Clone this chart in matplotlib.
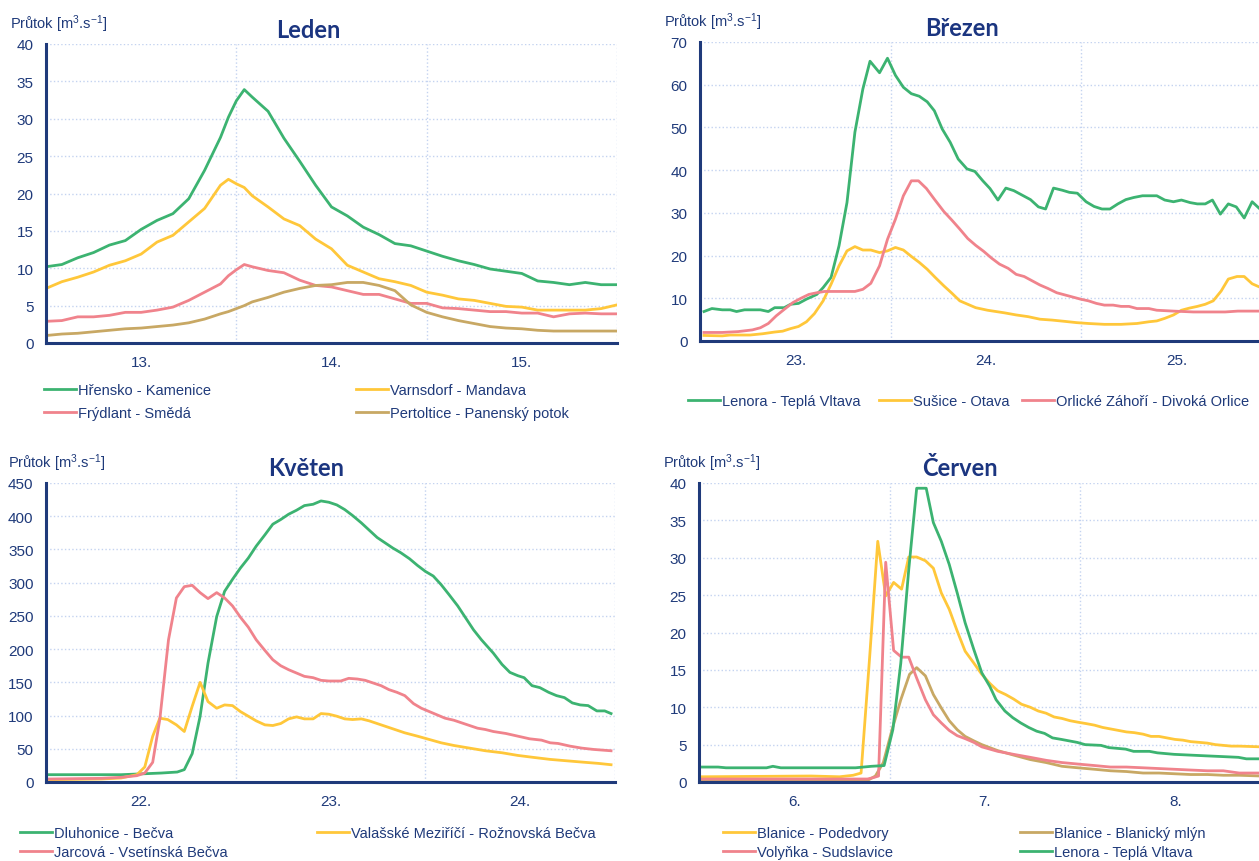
import matplotlib
matplotlib.use("Agg")
import matplotlib.pyplot as plt

W, H = 1259, 862

plt.rcParams['font.family'] = ['Liberation Sans', 'DejaVu Sans']
plt.rcParams['mathtext.default'] = 'regular'

NAVY = '#1f3a7a'
TITUL = '#1b3580'
MRIZKA = '#c4d3f0'
ZELENA = '#3cb371'
ZLUTA = '#ffc73a'
RUZOVA = '#f0838c'
HNEDA = '#c8a864'

# ---- Leden (13.-15.) ----
leden_h = [0, 2, 4, 6, 8, 10, 12, 14, 16, 18, 20, 22, 23, 24, 25, 26, 28, 30, 32, 34,
           36, 38, 40, 42, 44, 46, 48, 50, 52, 54, 56, 58, 60, 62, 64, 66, 68, 70, 72]
hrensko = [10.2, 10.5, 11.4, 12.1, 13.1, 13.7, 15.2, 16.4, 17.3, 19.3, 23.1, 27.5, 30.2, 32.4,
           33.9, 32.9, 31.0, 27.4, 24.3, 21.1, 18.2, 17.0, 15.5, 14.5, 13.3, 13.0, 12.3, 11.6,
           11.0, 10.5, 9.9, 9.6, 9.3, 8.3, 8.1, 7.8, 8.1, 7.8, 7.8]
varnsdorf = [7.3, 8.2, 8.8, 9.5, 10.4, 11.0, 11.9, 13.5, 14.4, 16.2, 18.0, 21.1, 21.9, 21.3,
             20.8, 19.7, 18.2, 16.6, 15.7, 13.9, 12.6, 10.4, 9.5, 8.6, 8.2, 7.7, 6.8, 6.4,
             5.9, 5.7, 5.3, 4.9, 4.8, 4.4, 4.4, 4.4, 4.4, 4.6, 5.1]
frydlant = [2.9, 3.0, 3.5, 3.5, 3.7, 4.1, 4.1, 4.4, 4.8, 5.7, 6.8, 7.9, 9.0, 9.8, 10.5, 10.2,
            9.7, 9.4, 8.4, 7.7, 7.5, 7.0, 6.5, 6.5, 5.9, 5.3, 5.3, 4.7, 4.6, 4.4, 4.2, 4.2,
            4.0, 4.0, 3.5, 3.9, 4.0, 3.9, 3.9]
pertoltice = [1.0, 1.2, 1.3, 1.5, 1.7, 1.9, 2.0, 2.2, 2.4, 2.7, 3.2, 3.9, 4.2, 4.6, 5.0, 5.5,
              6.1, 6.8, 7.3, 7.7, 7.8, 8.1, 8.1, 7.7, 7.0, 5.1, 4.1, 3.5, 3.0, 2.6, 2.2, 2.0,
              1.9, 1.7, 1.6, 1.6, 1.6, 1.6, 1.6]

# ---- Brezen (23.-25.) ----
lenora_b_h = [0.5, 1.5, 2.8, 3.8, 4.6, 5.6, 7.6, 8.6, 9.4, 10.6, 11.4, 12.4, 13.4, 14.7, 15.5,
              16.5, 17.5, 18.5, 19.5, 20.5, 21.4, 22.6, 23.6, 24.6, 25.6, 26.6, 27.6, 28.6,
              29.5, 30.5, 31.5, 32.5, 33.6, 34.6, 35.6, 36.5, 37.5, 38.5, 39.5, 40.5, 41.6,
              42.6, 43.5, 44.5, 45.6, 46.5, 47.5, 48.6, 49.6, 50.6, 51.6, 52.6, 53.6, 54.6,
              55.7, 57.5, 58.5, 59.6, 60.6, 61.7, 62.6, 63.6, 64.5, 65.5, 66.5, 67.5, 68.5,
              69.5, 70.6, 71.5]
lenora_b = [6.9, 7.6, 7.3, 7.3, 6.9, 7.3, 7.3, 6.9, 7.8, 7.8, 8.6, 8.8, 9.8, 10.9, 12.5, 14.9,
            22.3, 32.4, 48.9, 59.0, 65.5, 62.8, 66.2, 62.2, 59.4, 57.9, 57.3, 56.0, 53.9, 49.6,
            46.5, 42.6, 40.3, 39.7, 37.5, 35.7, 33.0, 35.8, 35.2, 34.2, 33.1, 31.4, 30.9, 35.8,
            35.3, 34.8, 34.6, 32.6, 31.5, 30.9, 30.9, 32.1, 33.1, 33.6, 34.0, 34.0, 33.0, 32.6,
            33.0, 32.4, 32.1, 32.1, 33.0, 29.7, 32.1, 31.4, 28.8, 32.6, 30.7, 31.5]
susice_h = [0.5, 2.8, 3.8, 6.3, 7.9, 9.4, 10.4, 11.4, 12.4, 13.4, 14.4, 15.5, 16.5, 17.5, 18.5,
            19.5, 20.5, 21.5, 22.6, 23.6, 24.6, 25.6, 26.6, 27.6, 28.6, 29.6, 30.7, 31.7, 32.7,
            33.7, 34.7, 36.2, 38.3, 39.8, 41.3, 42.8, 44.3, 45.9, 47.4, 48.9, 50.9, 53.0, 55.0,
            56.5, 57.5, 58.5, 59.6, 60.6, 61.6, 62.6, 63.6, 64.6, 65.6, 66.5, 67.6, 68.5, 69.5,
            70.6, 71.5]
susice = [1.3, 1.2, 1.4, 1.4, 1.7, 2.1, 2.3, 2.9, 3.4, 4.5, 6.4, 9.4, 13.3, 17.6, 21.1, 22.1,
          21.3, 21.3, 20.7, 21.1, 21.9, 21.3, 19.8, 18.4, 16.8, 14.9, 12.9, 11.2, 9.4, 8.6, 7.8,
          7.2, 6.6, 6.1, 5.7, 5.1, 4.9, 4.6, 4.3, 4.1, 3.9, 3.9, 4.1, 4.5, 4.7, 5.3, 6.1, 7.2,
          7.7, 8.1, 8.6, 9.4, 11.7, 14.5, 15.1, 15.1, 13.4, 12.5, 11.8]
orlicke_h = [0.5, 2.8, 4.8, 6.6, 7.6, 8.6, 9.6, 10.6, 11.7, 12.7, 13.7, 14.7, 15.7, 17.5, 19.5,
             20.5, 21.5, 22.6, 23.6, 24.6, 25.6, 26.6, 27.5, 28.5, 29.5, 30.7, 31.7, 32.7, 33.7,
             34.7, 35.7, 36.7, 37.7, 38.8, 39.8, 40.8, 41.8, 42.8, 43.8, 44.9, 45.9, 46.9, 47.9,
             48.9, 49.9, 50.9, 52.0, 53.0, 54.0, 55.0, 56.5, 57.5, 59.6, 62.1, 66.1, 67.7, 71.5]
orlicke = [2.0, 2.0, 2.2, 2.6, 3.1, 4.1, 5.9, 7.4, 9.0, 10.0, 10.9, 11.3, 11.6, 11.6, 11.6,
           12.1, 13.5, 17.6, 23.8, 28.5, 34.0, 37.5, 37.5, 35.7, 33.2, 30.3, 28.3, 26.2, 24.0,
           22.4, 21.0, 19.4, 18.0, 17.0, 15.6, 15.1, 14.1, 13.1, 12.3, 11.3, 10.8, 10.3, 9.8,
           9.4, 8.8, 8.4, 8.4, 8.1, 8.1, 7.6, 7.6, 7.2, 7.0, 6.8, 6.8, 7.0, 7.0]

# ---- Kveten (22.-24.) ----
dluhonice_h = [0.4, 9.5, 12.6, 14.6, 16.6, 17.5, 18.5, 19.5, 20.5, 21.6, 22.6, 23.6, 24.6, 25.6,
               26.6, 27.7, 28.7, 29.7, 30.7, 31.7, 32.7, 33.8, 34.8, 35.8, 36.8, 37.8, 38.8,
               39.9, 40.9, 41.9, 42.9, 43.9, 44.9, 46.0, 47.0, 48.0, 49.0, 50.0, 51.0, 52.1,
               53.1, 54.1, 55.1, 56.6, 57.7, 58.7, 59.7, 60.5, 61.5, 62.5, 63.6, 64.6, 65.6,
               66.6, 67.6, 68.6, 69.7, 70.7, 71.5]
dluhonice = [11, 11, 12.5, 13.5, 15, 18.6, 42.7, 98.9, 179, 249, 287, 305, 322, 337, 355, 372,
             388, 395, 403, 409, 416, 418, 423, 421, 417, 410, 401, 390, 379, 368, 360, 352,
             345, 336, 326, 317, 310, 297, 282, 265, 247, 229, 214, 194, 177, 165, 160, 157,
             145, 142, 135, 130, 127, 119, 116, 115, 107, 107, 103]
valmez_h = [0.4, 7.0, 9.5, 11.5, 12.5, 13.5, 14.4, 15.4, 16.5, 17.5, 18.5, 19.5, 20.5, 21.6,
            22.6, 23.6, 24.6, 25.6, 26.6, 27.7, 28.7, 29.7, 30.7, 31.7, 32.7, 33.8, 34.8, 35.8,
            36.8, 37.8, 38.8, 39.9, 40.9, 42.4, 43.9, 45.4, 47.0, 48.5, 50.0, 51.6, 53.6, 55.6,
            57.7, 59.7, 61.7, 63.8, 65.8, 67.8, 69.9, 71.5]
valmez = [3.5, 4.5, 6, 11, 22.6, 68.8, 96, 94, 86, 76, 114, 150, 121, 111, 116, 115, 106, 99,
          92, 86, 85, 88, 95, 98, 95, 95, 103, 102, 99, 95, 94, 95, 92, 86, 80, 74, 69, 64, 59,
          55, 51, 47, 44, 40, 37, 34, 32, 30, 28, 26]
jarcova_h = [0.4, 7.0, 9.5, 11.5, 12.5, 13.5, 14.4, 15.5, 16.5, 17.5, 18.5, 19.5, 20.5, 21.6,
             22.6, 23.6, 24.6, 25.6, 26.6, 27.7, 28.7, 29.7, 30.7, 31.7, 32.7, 33.8, 34.8, 35.8,
             37.3, 38.3, 39.4, 40.4, 41.4, 42.4, 43.4, 44.4, 45.4, 46.5, 47.5, 48.5, 49.5, 50.5,
             51.6, 52.6, 53.6, 54.6, 55.6, 56.6, 58.2, 59.7, 61.2, 62.7, 63.8, 64.8, 66.3, 67.8,
             69.3, 71.5]
jarcova = [4.5, 5.5, 7, 9.5, 13.5, 29.6, 94, 214, 277, 294, 296, 285, 276, 285, 277, 265, 248,
           233, 214, 198, 184, 175, 169, 164, 159, 157, 153, 152, 152, 156, 155, 153, 149, 145,
           139, 135, 130, 118, 111, 106, 101, 96, 93, 89, 85, 81, 79, 76, 73, 69, 65, 63, 59,
           58, 54, 51, 49, 47]

# ---- Cerven (6.-8.) ----
podedvory_h = [0.4, 14.1, 17.7, 19.4, 20.4, 21.5, 22.5, 23.5, 24.5, 25.5, 26.4, 27.4, 28.5,
               29.5, 30.5, 31.5, 32.5, 33.5, 34.6, 35.6, 36.6, 37.6, 38.6, 39.6, 40.6, 41.7,
               42.7, 43.7, 44.7, 45.7, 46.7, 47.7, 48.8, 49.8, 50.8, 51.8, 52.8, 53.8, 54.8,
               55.9, 56.9, 57.9, 58.9, 59.9, 60.9, 61.9, 63.0, 64.0, 65.0, 66.0, 67.0, 68.0,
               70.8, 71.6]
podedvory = [0.7, 0.8, 0.7, 0.9, 1.2, 17.0, 32.2, 24.9, 26.7, 25.8, 30.1, 30.1, 29.6, 28.6,
             25.3, 23.1, 20.2, 17.5, 15.9, 14.4, 13.2, 12.2, 11.7, 11.1, 10.4, 10.0, 9.5, 9.2,
             8.7, 8.5, 8.2, 8.0, 7.8, 7.6, 7.3, 7.1, 6.9, 6.7, 6.6, 6.4, 6.1, 6.1, 5.9, 5.7, 5.6,
             5.4, 5.3, 5.2, 5.0, 4.9, 4.8, 4.8, 4.7, 4.7]
blanicky_h = [0.4, 21.2, 22.2, 23.2, 24.3, 25.4, 26.5, 27.4, 28.5, 29.5, 30.5, 31.5, 32.5,
              33.5, 34.6, 35.6, 37.6, 39.6, 41.7, 43.7, 45.7, 47.7, 49.8, 51.8, 53.8, 55.9,
              57.9, 59.9, 61.9, 64.0, 66.0, 68.0, 70.8, 71.6]
blanicky = [0.2, 0.2, 0.8, 2.6, 7.0, 11.0, 14.4, 15.3, 14.2, 11.7, 9.9, 8.2, 7.0, 6.1, 5.5,
            5.0, 4.2, 3.6, 3.0, 2.6, 2.1, 1.9, 1.7, 1.5, 1.4, 1.2, 1.2, 1.1, 1.0, 1.0, 0.9, 0.9,
            0.8, 0.8]
volynka_h = [0.4, 21.2, 22.0, 22.6, 23.5, 24.5, 25.5, 26.4, 27.4, 28.5, 29.5, 30.5, 31.5, 32.5,
             33.5, 34.6, 35.6, 37.6, 39.6, 41.7, 43.7, 45.7, 47.7, 49.8, 51.8, 53.8, 55.9,
             57.9, 59.9, 61.9, 64.0, 66.0, 68.0, 70.8, 71.6]
volynka = [0.4, 0.4, 0.6, 0.8, 29.4, 17.6, 16.7, 16.7, 13.9, 11.0, 9.0, 7.9, 6.9, 6.2, 5.8,
           5.3, 4.7, 4.1, 3.7, 3.3, 2.9, 2.6, 2.4, 2.2, 2.0, 2.0, 1.9, 1.8, 1.7, 1.6, 1.5, 1.5,
           1.2, 1.2, 1.2]
lenora_c_h = [0.4, 2.4, 3.4, 8.5, 9.3, 10.3, 19.7, 20.7, 21.7, 23.3, 24.4, 25.4, 26.4, 27.4,
              28.6, 29.5, 30.5, 31.5, 32.5, 33.5, 34.6, 35.6, 36.6, 37.4, 38.5, 39.5, 40.5,
              41.5, 42.5, 43.5, 44.5, 45.6, 46.6, 47.6, 48.6, 50.6, 51.6, 53.7, 54.7, 56.7,
              57.7, 59.8, 61.8, 63.8, 65.9, 67.9, 68.9, 70.8, 71.6]
lenora_c = [2.0, 2.0, 1.9, 1.9, 2.1, 1.9, 1.9, 2.0, 2.1, 2.2, 7.0, 15.9, 28.4, 39.3, 39.3, 34.7,
            32.2, 29.1, 25.3, 21.3, 17.7, 14.6, 12.8, 11.0, 9.5, 8.6, 7.9, 7.3, 6.8, 6.5, 5.9,
            5.7, 5.5, 5.3, 5.0, 4.9, 4.6, 4.4, 4.1, 4.1, 3.9, 3.7, 3.6, 3.5, 3.4, 3.3, 3.1, 3.1,
            3.1]


def osa(l, t, r, b):
    # pozice osy v pixelech obrazku
    return fig.add_axes([l / W, 1 - b / H, (r - l) / W, (b - t) / H])


def uprav_osu(ax, ymax, ykrok, dny):
    ax.set_xlim(0, 72)
    ax.set_ylim(0, ymax)
    ax.set_yticks(range(0, ymax + 1, ykrok))
    ax.set_xticks([0, 24, 48, 72])
    ax.set_xticklabels([])
    ax.set_xticks([12, 36, 60], minor=True)
    ax.set_xticklabels(dny, minor=True)
    ax.tick_params(which='both', length=0, colors=NAVY, labelsize=11)
    ax.tick_params(axis='y', pad=9)
    ax.tick_params(axis='x', which='minor', pad=9)
    ax.grid(True, which='major', color=MRIZKA, linestyle=':', linewidth=1.0)
    ax.set_axisbelow(True)
    for s in ['top', 'right']:
        ax.spines[s].set_visible(False)
    for s in ['left', 'bottom']:
        ax.spines[s].set_color(NAVY)
        ax.spines[s].set_linewidth(2.2)


def nadpis(x, y, text):
    fig.text(x / W, 1 - y / H, text, ha='center', va='center', fontsize=17,
             fontweight='bold', family='Lato', color=TITUL)


def jednotky(x, y):
    fig.text(x / W, 1 - y / H, 'Průtok [m$^{3}$.s$^{-1}$]', ha='left', va='center',
             fontsize=10.5, color=NAVY)


def legenda(car, text, x, y):
    fig.legend([car], [text], loc='center left', bbox_to_anchor=(x / W, 1 - y / H),
               frameon=False, fontsize=10.5, labelcolor=NAVY, handlelength=2.2,
               handletextpad=0.15, borderpad=0, borderaxespad=0)


fig = plt.figure(figsize=(W / 100, H / 100), dpi=100)
LW = 2.0

# Leden
ax1 = osa(46, 45, 617, 344)
l1, = ax1.plot(leden_h, hrensko, color=ZELENA, lw=LW)
l2, = ax1.plot(leden_h, varnsdorf, color=ZLUTA, lw=LW)
l3, = ax1.plot(leden_h, frydlant, color=RUZOVA, lw=LW)
l4, = ax1.plot(leden_h, pertoltice, color=HNEDA, lw=LW)
uprav_osu(ax1, 40, 5, ['13.', '14.', '15.'])
nadpis(308, 30, 'Leden')
jednotky(10, 24)
legenda(l1, 'Hřensko - Kamenice', 44, 391)
legenda(l3, 'Frýdlant - Smědá', 44, 414)
legenda(l2, 'Varnsdorf - Mandava', 356, 391)
legenda(l4, 'Pertoltice - Panenský potok', 356, 414)

# Brezen
ax2 = osa(700, 43, 1272, 342)
m1, = ax2.plot(lenora_b_h, lenora_b, color=ZELENA, lw=LW)
m2, = ax2.plot(susice_h, susice, color=ZLUTA, lw=LW)
m3, = ax2.plot(orlicke_h, orlicke, color=RUZOVA, lw=LW)
uprav_osu(ax2, 70, 10, ['23.', '24.', '25.'])
nadpis(962, 28, 'Březen')
jednotky(664, 22)
legenda(m1, 'Lenora - Teplá Vltava', 688, 402)
legenda(m2, 'Sušice - Otava', 879, 402)
legenda(m3, 'Orlické Záhoří - Divoká Orlice', 1022, 402)

# Kveten
ax3 = osa(46, 484, 615, 783)
k1, = ax3.plot(dluhonice_h, dluhonice, color=ZELENA, lw=LW)
k2, = ax3.plot(valmez_h, valmez, color=ZLUTA, lw=LW)
k3, = ax3.plot(jarcova_h, jarcova, color=RUZOVA, lw=LW)
uprav_osu(ax3, 450, 50, ['22.', '23.', '24.'])
nadpis(306, 469, 'Květen')
jednotky(8, 463)
legenda(k1, 'Dluhonice - Bečva', 20, 834)
legenda(k3, 'Jarcová - Vsetínská Bečva', 20, 853)
legenda(k2, 'Valašské Meziříčí - Rožnovská Bečva', 317, 834)

# Cerven
ax4 = osa(699, 484, 1271, 783)
c1, = ax4.plot(podedvory_h, podedvory, color=ZLUTA, lw=LW)
c2, = ax4.plot(blanicky_h, blanicky, color=HNEDA, lw=LW)
c3, = ax4.plot(volynka_h, volynka, color=RUZOVA, lw=LW)
c4, = ax4.plot(lenora_c_h, lenora_c, color=ZELENA, lw=LW)
uprav_osu(ax4, 40, 5, ['6.', '7.', '8.'])
nadpis(960, 469, 'Červen')
jednotky(663, 463)
legenda(c1, 'Blanice - Podedvory', 723, 834)
legenda(c3, 'Volyňka - Sudslavice', 723, 853)
legenda(c2, 'Blanice - Blanický mlýn', 1020, 834)
legenda(c4, 'Lenora - Teplá Vltava', 1020, 853)

fig.savefig('out.png', dpi=100)
